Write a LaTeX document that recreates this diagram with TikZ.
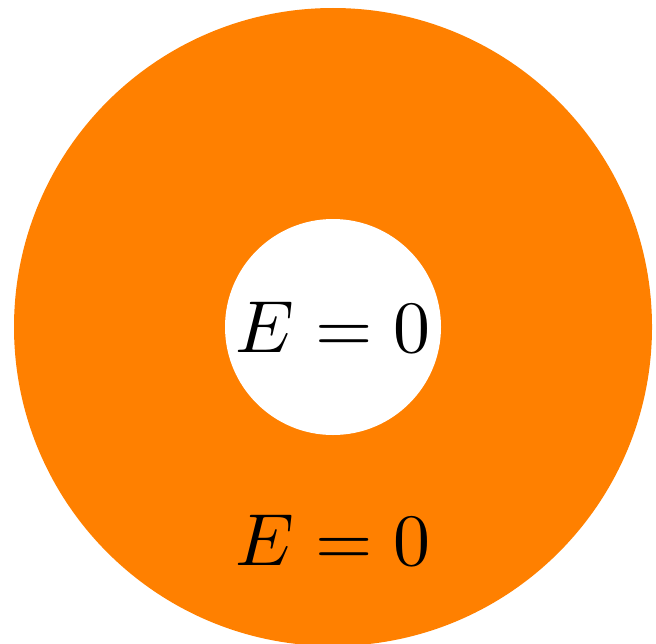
\documentclass[tikz,border=0pt]{standalone}
\usepackage{tikz}
\usetikzlibrary{positioning}

\begin{document}
\begin{tikzpicture}[
  shell/.style={fill=orange, draw=none},
  cavity/.style={fill=white, draw=none},
  flabel/.style={scale=2.1, inner sep=0pt}
]
  \useasboundingbox (0,0) rectangle (6.56,6.43);
  \coordinate (c) at (3.33,3.16);
  \fill[shell] (c) circle (3.19);
  \fill[cavity] (c) circle (1.08);
  \node[flabel] (inner) at (c) {$E=0$};
  \node[flabel] (outer) at (3.33,1.03) {$E=0$};
\end{tikzpicture}
\end{document}
